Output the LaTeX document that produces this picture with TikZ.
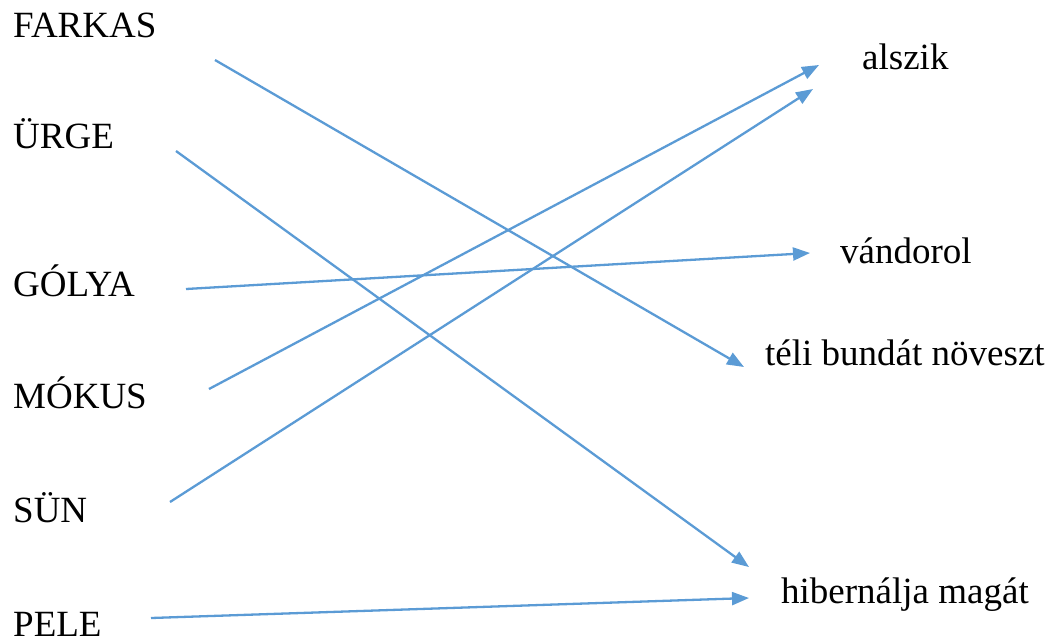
\documentclass[tikz,border=0pt]{standalone}
\usepackage{fontspec}
\setmainfont{Liberation Serif}
\usetikzlibrary{arrows.meta}
\definecolor{arrowblue}{HTML}{5B9BD5}
\tikzset{
  lbl/.style={anchor=base west, inner sep=0pt, font=\rmfamily\fontsize{37}{44}\selectfont, text=black},
  conn/.style={draw=arrowblue, line width=2.3pt, -{Triangle[length=17pt, width=13pt]}}
}
\begin{document}
\begin{tikzpicture}[x=1pt, y=-1pt]
\useasboundingbox (0,0) rectangle (1053,641);
% left labels
\node[lbl] (farkas) at (13,37) {FARKAS};
\node[lbl] (urge) at (13,148) {ÜRGE};
\node[lbl] (golya) at (13,296) {GÓLYA};
\node[lbl] (mokus) at (13,408) {MÓKUS};
\node[lbl] (sun) at (13,522) {SÜN};
\node[lbl] (pele) at (13,636) {PELE};
% right labels
\node[lbl] (alszik) at (862,69) {alszik};
\node[lbl] (vandorol) at (840,263) {vándorol};
\node[lbl] (teli) at (765,365) {téli bundát növeszt};
\node[lbl] (hiber) at (781,603) {hibernálja magát};
% connector ends
\coordinate (farkasS) at (215,60);
\coordinate (teliE) at (744,367);
\coordinate (urgeS) at (176,151);
\coordinate (hiberE1) at (749,567);
\coordinate (golyaS) at (186,289);
\coordinate (vandorolE) at (810,253);
\coordinate (mokusS) at (209,389);
\coordinate (alszikE1) at (819,65);
\coordinate (sunS) at (170,502);
\coordinate (alszikE2) at (813,89);
\coordinate (peleS) at (151,618);
\coordinate (hiberE2) at (749,598);
% connectors
\draw[conn] (farkasS) -- (teliE);
\draw[conn] (urgeS) -- (hiberE1);
\draw[conn] (golyaS) -- (vandorolE);
\draw[conn] (mokusS) -- (alszikE1);
\draw[conn] (sunS) -- (alszikE2);
\draw[conn] (peleS) -- (hiberE2);
\end{tikzpicture}
\end{document}
